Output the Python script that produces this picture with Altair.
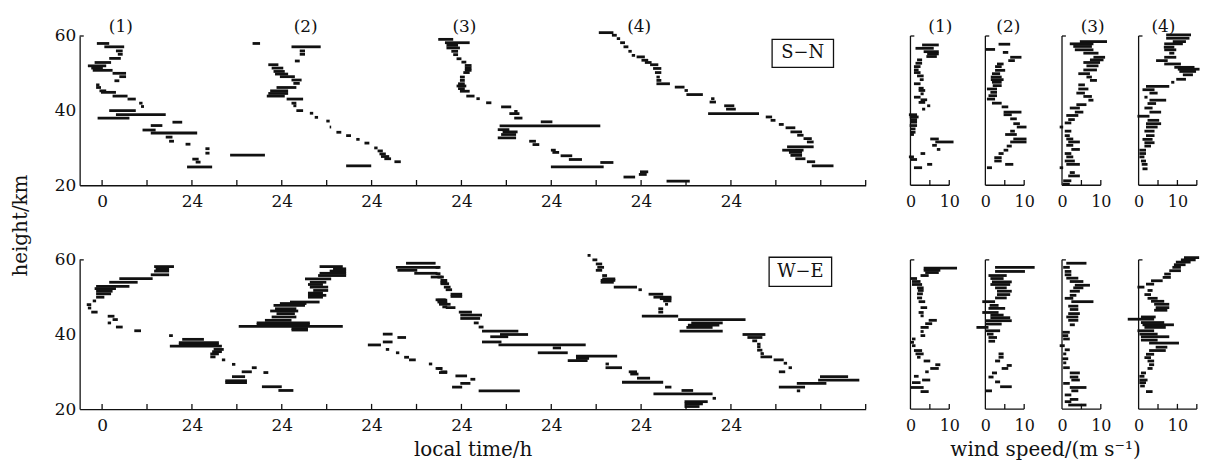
import altair as alt
import pandas as pd

# ---------------- phase-line segments: (height km, start local time h, end local time h) ----------------
SN_1 = [(58.0, -1.4, 1.9), (57.1, 0.6, 5.9), (56.0, 3.7, 5.5), (55.1, 4.2, 5.5), (54.0, 1.9, 5.0),
        (52.9, -2.0, 2.4), (52.0, -3.8, 1.1), (51.4, -2.9, 0.2), (50.8, -2.5, 2.8), (50.0, 2.8, 6.4),
        (49.1, 4.6, 6.4), (48.0, 3.3, 4.6), (46.9, -1.6, -0.7), (46.2, -1.6, -0.3), (45.3, -0.7, 1.1),
        (44.9, -0.3, 3.7), (43.9, 2.8, 6.8), (43.1, 6.8, 9.0), (42.0, 9.9, 10.8), (41.1, 10.4, 11.2),
        (40.0, 1.9, 9.0), (38.9, 3.7, 17.0), (38.0, -1.2, 7.3), (36.9, 18.8, 21.4), (36.0, 13.0, 16.1),
        (34.8, 10.8, 14.3), (34.0, 13.0, 25.4), (32.9, 17.0, 18.8), (31.8, 17.9, 19.2), (31.0, 22.3, 23.6),
        (29.8, 27.6, 28.7), (28.6, 27.6, 28.7), (27.0, 24.1, 25.8), (26.2, 25.0, 26.3), (24.9, 22.7, 29.4)]
SN_2 = [(58.0, 40.2, 42.2), (57.1, 50.6, 58.4), (56.0, 52.8, 54.2), (55.1, 52.8, 54.2), (53.3, 51.5, 52.8),
        (52.3, 44.4, 47.1), (51.4, 45.3, 48.4), (50.5, 45.8, 48.8), (49.8, 46.2, 49.7), (49.1, 47.5, 51.5),
        (48.2, 50.6, 53.3), (47.3, 51.1, 52.8), (46.2, 46.6, 51.9), (45.3, 44.9, 49.7), (44.6, 44.4, 49.7),
        (43.9, 44.0, 48.8), (43.1, 49.3, 53.7), (42.0, 50.6, 51.9), (41.3, 51.1, 51.9), (40.0, 51.9, 53.7),
        (39.3, 55.5, 56.4), (38.2, 56.8, 57.7), (37.2, 59.9, 60.8), (35.6, 60.8, 61.2), (34.2, 62.6, 63.9),
        (33.3, 65.2, 66.5), (32.3, 67.9, 68.8), (31.3, 70.1, 71.4), (30.0, 72.7, 73.6), (29.2, 73.6, 75.0),
        (28.4, 74.1, 75.8), (27.7, 74.5, 76.7), (27.1, 75.4, 77.2), (26.3, 78.1, 79.8), (25.2, 65.2, 71.9),
        (28.1, 34.2, 43.5)]
SN_3 = [(59.1, 89.8, 93.8), (58.2, 91.6, 98.2), (57.5, 92.0, 95.1), (56.8, 92.0, 95.6), (55.9, 93.3, 95.1),
        (55.0, 93.8, 95.1), (53.9, 94.7, 96.0), (53.0, 96.0, 97.3), (52.1, 96.9, 98.7), (51.4, 96.9, 98.7),
        (50.8, 96.9, 98.7), (50.2, 96.5, 98.2), (49.0, 95.6, 96.9), (48.1, 95.6, 96.9), (47.2, 95.1, 96.9),
        (46.6, 94.7, 97.3), (45.9, 95.1, 96.9), (45.2, 95.6, 98.2), (43.9, 97.3, 99.5), (43.2, 100.0, 100.9),
        (42.1, 102.6, 104.0), (41.0, 106.6, 109.3), (39.8, 110.1, 111.0), (39.2, 108.8, 111.5),
        (38.0, 110.1, 112.3), (37.0, 117.2, 120.3), (35.9, 106.2, 133.1), (34.9, 105.7, 108.8),
        (34.3, 107.0, 111.0), (33.6, 106.6, 110.6), (32.7, 105.7, 110.6), (31.8, 114.1, 115.9),
        (30.9, 115.0, 116.8), (29.4, 119.9, 121.2), (28.8, 120.3, 122.1), (27.9, 122.5, 125.6),
        (26.9, 124.7, 128.2), (26.1, 133.1, 136.6), (24.9, 119.9, 134.0), (22.2, 139.3, 142.4),
        (23.6, 143.7, 145.9), (22.9, 143.4, 145.5), (21.1, 150.8, 157.0)]
SN_4 = [(60.9, 132.7, 136.6), (60.2, 136.2, 137.5), (59.3, 137.5, 138.4), (58.2, 138.4, 139.7),
        (57.1, 139.3, 140.6), (55.9, 140.6, 141.5), (54.8, 141.5, 142.4), (54.4, 142.8, 145.0),
        (53.5, 144.1, 145.9), (52.9, 145.0, 146.8), (52.3, 146.4, 148.6), (51.3, 147.2, 149.4),
        (50.2, 147.7, 149.4), (49.0, 148.1, 149.0), (48.1, 148.1, 149.4), (47.2, 148.1, 151.7),
        (46.3, 153.0, 155.6), (45.4, 155.6, 156.5), (44.3, 156.1, 160.5), (43.2, 162.7, 163.6),
        (42.3, 162.3, 164.0), (41.3, 166.2, 168.9), (40.4, 166.7, 169.3), (39.2, 161.9, 175.5),
        (38.3, 177.3, 179.0), (37.4, 178.6, 179.9), (36.3, 180.8, 182.1), (35.4, 182.6, 185.2),
        (34.3, 183.9, 187.0), (33.4, 185.7, 187.4), (32.5, 187.4, 189.6), (31.6, 188.3, 190.1),
        (30.3, 183.0, 190.1), (29.4, 181.7, 187.4), (28.8, 183.5, 187.0), (28.0, 183.9, 187.0),
        (27.1, 185.2, 187.9), (26.3, 188.3, 190.5), (25.2, 189.6, 195.4)]

WE_1 = [(58.2, 13.9, 19.2), (57.6, 14.3, 17.9), (57.0, 13.9, 17.9), (56.0, 13.0, 17.9), (55.0, 4.6, 13.5),
        (54.0, 1.9, 9.5), (52.9, -1.6, 7.3), (52.3, -2.0, 3.7), (51.6, -1.6, 2.8), (50.9, -1.6, 2.4),
        (50.0, -1.6, 0.6), (49.0, -2.5, -1.6), (48.0, -4.1, -2.9), (47.1, -3.8, -2.9), (46.0, -2.9, -1.2),
        (44.9, 1.5, 3.3), (44.0, 2.8, 4.2), (43.1, 1.5, 2.4), (42.0, 3.7, 5.5), (41.0, 8.6, 10.4),
        (39.7, 17.9, 18.9), (38.7, 21.4, 27.2), (37.8, 20.5, 31.2), (37.3, 20.5, 31.2), (36.9, 18.1, 32.0),
        (36.0, 29.8, 32.5), (35.4, 29.4, 32.0), (34.8, 28.9, 31.2), (34.0, 28.9, 30.3), (33.2, 32.0, 32.9),
        (32.0, 34.7, 35.6), (31.1, 40.0, 41.3), (30.0, 37.3, 40.0), (29.8, 43.1, 44.4), (28.7, 34.7, 38.2),
        (27.6, 32.9, 38.7), (27.1, 32.9, 38.7), (26.0, 42.7, 48.0), (25.0, 47.1, 51.1)]
WE_2 = [(58.2, 58.1, 64.3), (57.6, 61.7, 65.2), (57.0, 60.8, 65.2), (56.4, 58.1, 65.2), (55.8, 57.7, 65.2),
        (54.9, 54.2, 61.2), (54.0, 55.5, 59.9), (53.4, 55.0, 59.0), (52.7, 55.5, 60.4), (51.8, 56.4, 60.4),
        (51.1, 55.0, 59.0), (50.5, 55.0, 59.9), (50.0, 55.0, 59.0), (48.7, 50.2, 58.1), (48.3, 47.5, 54.6),
        (47.8, 45.8, 54.2), (46.9, 46.2, 51.9), (46.3, 44.9, 52.4), (45.6, 46.6, 51.5), (44.7, 45.3, 51.9),
        (43.8, 43.5, 50.6), (43.1, 41.3, 55.5), (42.7, 41.3, 55.5), (42.2, 36.5, 64.3), (41.6, 50.6, 55.0),
        (41.2, 50.6, 55.0)]
WE_3 = [(59.1, 81.2, 89.1), (58.0, 78.5, 90.4), (57.2, 78.9, 84.2), (56.4, 83.4, 89.6), (55.4, 87.8, 91.3),
        (54.0, 90.4, 92.2), (49.2, 89.6, 92.2), (48.3, 90.0, 92.2), (47.4, 90.9, 92.2), (40.1, 75.0, 77.6),
        (38.0, 75.0, 77.6), (37.2, 71.0, 74.5), (39.2, 78.9, 81.2), (36.0, 75.8, 76.7), (35.1, 78.5, 79.4),
        (33.9, 80.7, 82.0), (33.2, 82.0, 83.8), (32.1, 87.3, 88.2), (30.9, 89.6, 90.9), (30.0, 90.4, 92.2),
        (58.0, 89.1, 90.0), (56.3, 89.1, 90.4), (55.4, 89.6, 90.9), (54.5, 90.4, 92.2), (53.6, 90.4, 92.7),
        (52.7, 91.3, 93.1), (52.0, 91.8, 93.5), (50.8, 93.1, 96.2), (50.2, 93.1, 96.2), (49.3, 89.1, 91.8),
        (48.7, 89.6, 92.2), (48.1, 90.0, 93.1), (47.2, 91.8, 94.4), (46.0, 95.3, 98.8), (45.2, 95.7, 101.5),
        (44.3, 95.7, 101.0), (43.1, 99.3, 100.6), (42.0, 100.6, 101.9), (40.9, 101.5, 111.2),
        (40.0, 106.3, 113.8), (39.4, 103.7, 108.5), (38.0, 101.5, 106.7), (37.2, 105.9, 129.2),
        (36.4, 120.4, 122.6), (35.1, 116.4, 124.4), (34.2, 126.6, 137.6), (33.6, 126.6, 130.1),
        (33.0, 124.4, 129.7), (32.1, 134.5, 135.4), (31.1, 134.5, 138.9), (30.0, 140.7, 142.9),
        (29.4, 141.1, 143.3), (28.3, 142.9, 146.4), (27.2, 138.9, 149.9), (25.9, 150.4, 152.1),
        (25.0, 154.8, 157.9), (24.1, 147.3, 163.1), (22.9, 163.1, 164.0), (22.0, 155.6, 161.8),
        (21.4, 155.6, 160.5), (20.7, 155.6, 159.6), (30.9, 89.1, 90.9), (29.8, 90.0, 92.2),
        (28.9, 94.4, 97.5), (28.0, 98.4, 99.7), (26.9, 95.7, 98.4), (25.9, 93.5, 96.2), (24.9, 100.6, 111.6)]
WE_4 = [(61.2, 129.7, 130.5), (60.0, 131.0, 132.3), (58.9, 131.9, 133.6), (58.0, 132.3, 134.1),
        (57.2, 131.9, 133.6), (55.8, 133.6, 134.9), (54.9, 133.6, 137.1), (54.5, 133.2, 137.1),
        (54.0, 133.2, 136.7), (52.7, 136.7, 142.9), (52.0, 143.3, 144.2), (50.8, 146.0, 149.9),
        (50.0, 147.3, 152.1), (49.6, 149.0, 152.1), (49.0, 149.9, 152.1), (48.1, 150.4, 151.2),
        (46.9, 148.6, 149.9), (46.0, 148.6, 149.9), (44.9, 144.2, 153.9), (44.0, 153.9, 171.9),
        (43.1, 157.4, 165.8), (42.5, 156.5, 164.9), (41.9, 156.1, 163.1), (40.9, 154.3, 165.8),
        (40.0, 171.1, 177.2), (39.2, 172.4, 176.4), (38.3, 173.7, 175.0), (37.4, 175.0, 175.9),
        (36.7, 175.0, 175.9), (35.8, 175.0, 176.4), (34.9, 175.9, 176.8), (34.0, 175.9, 179.0),
        (33.2, 179.4, 182.1), (32.3, 182.1, 183.0), (31.1, 183.4, 184.3), (30.0, 180.8, 182.5),
        (28.7, 191.8, 199.3), (27.8, 191.3, 202.3), (26.9, 185.6, 193.5), (25.9, 180.8, 187.8),
        (24.9, 185.6, 186.5)]

# ---------------- wind speed profiles: (height km, low m/s, high m/s) ----------------
SN_W1 = [(57.6, 3.0, 7.3), (56.7, 1.3, 6.0), (55.8, 3.4, 7.3), (55.2, 4.3, 7.3), (54.5, 4.1, 6.8),
         (53.6, 1.7, 3.0), (52.7, 1.3, 3.0), (51.8, 0.9, 2.6), (50.9, 0.9, 2.1), (50.2, 0.9, 2.6),
         (49.3, 1.7, 3.4), (48.3, 2.4, 3.4), (47.2, 0.9, 2.6), (46.0, 2.1, 3.4), (45.4, 2.1, 3.8),
         (44.5, 2.6, 3.4), (43.6, 0.9, 2.6), (42.9, 2.6, 4.3), (42.2, 2.1, 3.8), (41.3, 4.3, 5.1),
         (40.4, 3.0, 3.8), (38.9, -0.4, 1.7), (38.3, -0.2, 2.1), (37.6, 0.0, 1.7), (36.9, 0.0, 1.7),
         (36.0, -0.2, 1.7), (35.1, 0.0, 1.3), (34.2, 0.0, 1.3), (33.6, 0.0, 0.9), (32.4, 5.1, 7.3),
         (31.6, 6.4, 11.1), (30.7, 5.6, 6.8), (29.6, 6.8, 7.7), (28.5, 2.6, 3.8), (27.6, -0.4, 0.9),
         (26.9, 0.0, 1.7), (25.6, 4.3, 5.6), (24.7, 0.9, 3.0)]
SN_W2 = [(57.8, 3.4, 6.4), (56.4, 0.0, 2.5), (55.6, 4.5, 5.9), (54.3, 6.4, 9.3), (53.4, 5.9, 7.6),
         (52.5, 3.0, 4.7), (51.8, 2.5, 4.2), (50.8, 2.5, 5.1), (49.9, 1.7, 3.8), (49.0, 1.4, 4.2),
         (48.3, 1.4, 4.7), (47.6, 1.7, 4.2), (46.7, 1.9, 4.2), (45.8, 0.4, 3.0), (44.9, 1.3, 3.0),
         (44.0, 0.8, 3.0), (43.1, 0.4, 2.5), (42.0, 1.7, 4.2), (41.0, 4.2, 5.9), (39.6, 4.7, 9.3),
         (38.9, 4.7, 6.8), (37.8, 6.4, 8.1), (36.5, 7.2, 8.9), (35.6, 8.1, 10.6), (34.5, 6.4, 7.6),
         (33.6, 5.1, 8.1), (32.4, 7.2, 10.6), (31.6, 6.4, 10.6), (30.5, 5.5, 6.8), (29.4, 4.7, 5.9),
         (28.5, 3.4, 4.7), (27.4, 2.3, 4.2), (26.5, 2.3, 4.2), (25.6, 5.1, 7.2), (24.7, 0.4, 1.7)]
SN_W3 = [(58.5, 4.6, 11.6), (57.9, 2.0, 8.1), (57.2, 2.9, 7.7), (56.3, 3.3, 8.1), (55.4, 5.5, 9.4),
         (54.3, 8.1, 11.1), (53.6, 7.2, 10.7), (52.9, 5.5, 9.8), (52.0, 6.3, 9.4), (50.9, 5.5, 9.0),
         (49.9, 4.2, 7.2), (49.0, 6.3, 7.7), (48.1, 7.2, 9.0), (46.9, 4.2, 5.9), (45.8, 4.2, 6.8),
         (44.7, 3.7, 5.9), (43.8, 5.5, 7.7), (42.8, 6.8, 8.1), (41.6, 3.7, 6.3), (40.7, 2.0, 4.6),
         (39.6, 3.3, 5.5), (38.7, 1.1, 4.2), (37.6, 1.6, 3.3), (36.7, 0.7, 2.4), (35.6, -0.6, 0.3),
         (34.5, 0.7, 2.4), (33.3, 0.7, 2.0), (32.4, 1.1, 2.9), (31.6, 1.6, 4.6), (30.7, 1.1, 2.9),
         (29.6, 2.4, 4.6), (28.5, 0.7, 2.4), (27.6, 1.1, 2.9), (26.5, 0.7, 3.3), (25.6, 1.1, 4.6),
         (24.7, -0.6, 0.3), (23.4, 2.0, 3.3), (22.5, 1.6, 4.6), (21.2, 0.3, 2.4), (20.3, 0.1, 2.0)]
SN_W4 = [(60.3, 7.1, 13.5), (59.4, 7.1, 13.1), (58.5, 8.8, 12.2), (57.9, 6.6, 11.4), (57.0, 6.5, 9.2),
         (56.3, 6.6, 9.7), (55.4, 7.9, 9.2), (54.3, 6.6, 9.7), (53.4, 4.5, 7.5), (52.5, 6.6, 10.9),
         (51.6, 9.2, 14.4), (51.1, 10.1, 15.7), (50.5, 10.5, 14.8), (49.6, 11.4, 14.0), (48.4, 9.7, 12.2),
         (47.6, 8.4, 9.2), (46.5, 1.9, 7.9), (45.6, 1.0, 4.1), (44.7, 2.8, 4.9), (43.6, 1.5, 2.3),
         (42.8, 2.8, 7.1), (41.9, 2.3, 4.5), (40.7, 1.5, 3.6), (39.6, 2.8, 5.8), (38.5, -0.3, 2.8),
         (37.4, 2.3, 5.3), (36.5, 1.9, 5.8), (35.6, 1.9, 4.9), (34.5, 1.5, 4.1), (33.3, 1.9, 4.1),
         (32.3, 1.0, 3.6), (31.4, 1.5, 4.1), (30.5, 1.5, 3.2), (29.4, 0.2, 1.9), (28.5, 0.2, 1.9),
         (27.6, 0.2, 1.5), (26.5, 0.6, 1.9), (25.6, 0.8, 2.3), (24.4, 1.0, 2.3)]
WE_W1 = [(57.8, 3.4, 12.0), (57.2, 3.4, 7.7), (56.6, 3.8, 7.3), (55.8, 2.6, 4.7), (55.0, 0.0, 1.7),
         (54.2, 0.4, 2.6), (53.4, 0.4, 3.0), (52.5, 1.7, 3.4), (51.8, 1.9, 3.4), (50.9, 1.7, 3.2),
         (49.8, 1.7, 3.0), (48.8, 2.1, 3.8), (47.2, 2.6, 4.3), (45.9, 2.1, 3.4), (45.0, 2.6, 3.4),
         (43.8, 4.7, 6.8), (42.9, 3.8, 5.6), (41.9, 2.6, 4.7), (40.8, 2.6, 3.4), (39.7, 2.6, 3.8),
         (38.8, 0.4, 1.3), (37.9, 0.0, 0.9), (37.0, 0.4, 1.3), (35.7, 0.9, 3.0), (34.8, 1.3, 3.4),
         (33.9, 1.7, 2.6), (32.9, 3.4, 5.1), (31.9, 6.4, 7.7), (30.9, 5.1, 7.3), (30.0, 3.8, 4.7),
         (28.8, 0.9, 2.1), (27.8, 3.0, 5.1), (27.1, 0.4, 2.6), (25.8, 0.0, 3.4), (24.7, 2.6, 4.7)]
WE_W2 = [(58.0, 2.5, 12.7), (56.9, 2.5, 10.2), (55.8, 0.8, 5.5), (55.0, 1.3, 4.7), (54.1, 1.7, 6.8),
         (53.4, 1.3, 6.4), (52.5, 2.5, 5.5), (51.6, 3.0, 6.8), (50.7, 3.0, 6.4), (49.8, 2.5, 5.5),
         (48.8, -0.8, 2.5), (47.8, 1.1, 3.4), (47.0, 0.8, 5.1), (45.9, -0.8, 3.4), (45.2, 1.3, 4.7),
         (44.5, 1.3, 6.4), (43.7, 0.0, 6.8), (42.8, 0.0, 4.2), (41.9, -2.3, 0.8), (41.0, 0.0, 3.8),
         (40.1, 0.4, 2.1), (39.2, 0.8, 3.0), (38.2, 0.8, 2.5), (34.8, 3.4, 4.7), (33.9, 3.4, 4.7),
         (32.9, 2.5, 3.8), (31.7, 5.5, 6.8), (30.9, 4.2, 5.9), (29.7, 1.7, 3.0), (28.6, 0.8, 2.1),
         (27.3, 2.5, 3.8), (26.0, 3.8, 6.8), (24.9, 0.0, 1.7)]
WE_W3 = [(59.1, 1.1, 6.3), (58.0, 0.3, 2.0), (56.9, 0.7, 2.4), (56.0, 0.7, 2.4), (55.1, 1.1, 4.2),
         (54.2, 2.0, 5.5), (53.2, 3.3, 7.2), (52.5, 2.9, 5.5), (51.6, 2.0, 4.6), (50.5, 2.0, 3.7),
         (49.7, 0.7, 2.9), (48.8, 2.4, 8.1), (47.6, 1.6, 4.2), (46.7, 2.0, 4.2), (45.6, 1.6, 4.6),
         (44.7, 1.1, 4.2), (43.8, 1.6, 4.2), (42.6, 2.0, 3.3), (40.6, 0.1, 2.0), (39.7, 0.1, 1.6),
         (38.8, 0.3, 2.0), (37.0, -0.6, 0.7), (35.9, 0.7, 2.0), (34.8, 0.3, 1.1), (33.5, 0.1, 1.6),
         (32.4, 0.3, 1.1), (31.1, 0.3, 2.0), (29.7, 2.0, 4.6), (28.6, 2.0, 4.2), (27.8, 2.4, 4.6),
         (26.9, 0.3, 2.0), (25.8, 2.0, 6.3), (24.9, 2.4, 4.2), (23.8, 0.7, 2.4), (22.6, 2.0, 4.2),
         (22.0, 0.7, 2.4), (21.1, 1.6, 6.3)]
WE_W4 = [(60.6, 11.7, 15.6), (60.0, 10.9, 14.7), (59.4, 9.6, 13.4), (58.7, 9.1, 12.1), (58.0, 8.7, 10.9),
         (57.1, 7.9, 10.9), (56.2, 6.6, 8.3), (55.3, 6.2, 8.3), (54.4, 3.2, 6.2), (53.5, 1.9, 4.0),
         (52.7, -0.3, 1.5), (51.8, 2.3, 3.6), (50.7, 1.5, 3.2), (49.7, 2.3, 4.9), (48.9, 3.2, 6.6),
         (48.1, 4.0, 7.9), (47.2, 4.4, 7.9), (46.5, 4.0, 7.4), (44.7, 0.6, 4.4), (44.1, -2.8, 4.0),
         (43.2, 0.6, 6.6), (42.6, 1.0, 9.1), (41.9, 1.5, 7.0), (41.0, -0.3, 4.0), (40.1, 0.2, 4.9),
         (39.4, 0.6, 7.9), (38.5, 0.6, 4.9), (37.7, 2.7, 10.4), (36.6, 4.4, 7.4), (35.7, 2.7, 7.0),
         (34.7, 1.9, 4.0), (33.8, 1.5, 3.2), (32.9, 2.3, 4.0), (31.9, 2.7, 4.0), (30.9, 2.3, 3.6),
         (29.7, 0.6, 1.9), (28.8, 0.2, 1.5), (27.8, 0.2, 2.3), (27.1, 0.2, 1.9), (26.2, 0.4, 1.6),
         (24.7, 1.9, 3.6)]

# ---------------- labels / ticks ----------------
TAGS = ["(1)", "(2)", "(3)", "(4)"]
TAG_TIME = [5.0, 54.4, 96.8, 143.5]          # where the case labels sit over the time panels
TAG_SPEED = [7.7, 5.9, 7.9, 6.4]              # where the case labels sit over the wind panels
TIME_TICKS = list(range(0, 205, 12))
TIME_LABELS = [0, 24, 48, 72, 96, 120, 144, 168]
HEIGHT_LABELS = [20, 40, 60]

# ---------------- styling / layout ----------------
FONT = "DejaVu Serif"
INK = "#111111"
PANEL_H = 150
T_DOM = [-6, 204]
LEFT_W = 790
PX_PER_MS = 3.9
TAG_H = 62.4
SPEED_DOMS = [(-8.46, 13.0, 10), (-3.15, 13.0, 10), (-3.67, 13.0, 10), (-3.41, 15.7, 15)]
SEG_W = 2.8
AX_W = 1.3


def frame(segs):
    return pd.DataFrame(segs, columns=["h", "a", "b"])


def hscale():
    return alt.Scale(domain=[20, 60], nice=False, zero=False)


def time_panel(groups, box, box_text, ytitle=False, xtitle=False):
    df = pd.concat([frame(g).assign(series=i + 1) for i, g in enumerate(groups)], ignore_index=True)
    tscale = alt.Scale(domain=T_DOM, nice=False, zero=False)
    xax = dict(values=TIME_LABELS, labelExpr="datum.value == 0 ? '0' : '24'", ticks=False,
               labelPadding=8, labelFontSize=17, grid=False, domainColor=INK, domainWidth=AX_W,
               labelFont=FONT, labelColor=INK)
    if xtitle:
        xax.update(title="local time/h", titleFontSize=20, titlePadding=7, titleFont=FONT,
                   titleColor=INK, titleFontWeight="normal")
    else:
        xax.update(title=None)
    yax = dict(values=HEIGHT_LABELS, ticks=False, labelPadding=4, labelFontSize=17, grid=False,
               domainColor=INK, domainWidth=AX_W, labelFont=FONT, labelColor=INK)
    if ytitle:
        yax.update(title="height/km", titleFontSize=20, titlePadding=24, titleY=190,
                   titleFont=FONT, titleColor=INK, titleFontWeight="normal")
    else:
        yax.update(title=None)

    segs = alt.Chart(df).mark_rule(color=INK, strokeWidth=SEG_W).encode(
        x=alt.X("a:Q", scale=tscale, axis=alt.Axis(**xax)),
        x2="b:Q",
        y=alt.Y("h:Q", scale=hscale(), axis=alt.Axis(**yax)),
    )
    one = pd.DataFrame({"k": [0]})
    ticks = alt.Chart(pd.DataFrame({"a": TIME_TICKS})).mark_rule(color=INK, strokeWidth=AX_W).encode(
        x="a:Q", y=alt.datum(20), y2=alt.datum(21.4))
    cap = alt.Chart(one).mark_rule(color=INK, strokeWidth=AX_W).encode(
        x=alt.datum(T_DOM[0]), x2=alt.datum(T_DOM[0] + 1.1), y=alt.datum(60))
    rect = alt.Chart(one).mark_rect(fill="white", stroke=INK, strokeWidth=AX_W).encode(
        x=alt.datum(box[0]), x2=alt.datum(box[1]), y=alt.datum(box[2]), y2=alt.datum(box[3]))
    btxt = alt.Chart(one).mark_text(font=FONT, fontSize=18, color=INK).encode(
        x=alt.datum((box[0] + box[1]) / 2), y=alt.datum((box[2] + box[3]) / 2),
        text=alt.value(box_text))
    layers = [segs, ticks, cap, rect, btxt]
    if ytitle:
        tags = alt.Chart(pd.DataFrame({"a": TAG_TIME, "h": [TAG_H] * 4, "lab": TAGS})).mark_text(
            font=FONT, fontSize=17, color=INK).encode(x="a:Q", y="h:Q", text="lab:N")
        layers.append(tags)
    return alt.layer(*layers).properties(width=LEFT_W, height=PANEL_H)


def wind_panel(segs_list, k, show_tag, xtitle=False):
    lo, hi, end = SPEED_DOMS[k]
    df = frame(segs_list)
    vscale = alt.Scale(domain=[lo, hi], nice=False, zero=False)
    xax = dict(values=[0, 10], domain=False, ticks=False, labelPadding=8, labelFontSize=16, grid=False,
               labelFont=FONT, labelColor=INK)
    if xtitle:
        xax.update(title="wind speed/(m s⁻¹)", titleFontSize=20, titlePadding=7,
                   titleX=60 - lo * PX_PER_MS,
                   titleFont=FONT, titleColor=INK, titleFontWeight="normal")
    else:
        xax.update(title=None)
    segs = alt.Chart(df).mark_rule(color=INK, strokeWidth=SEG_W).encode(
        x=alt.X("a:Q", scale=vscale, axis=alt.Axis(**xax)),
        x2="b:Q",
        y=alt.Y("h:Q", scale=hscale(), axis=None),
    )
    one = pd.DataFrame({"k": [0]})
    yline = alt.Chart(one).mark_rule(color=INK, strokeWidth=AX_W).encode(
        x=alt.datum(0), y=alt.datum(20), y2=alt.datum(60))
    cap = alt.Chart(one).mark_rule(color=INK, strokeWidth=AX_W).encode(
        x=alt.datum(0), x2=alt.datum(1.0), y=alt.datum(60))
    xline = alt.Chart(one).mark_rule(color=INK, strokeWidth=AX_W).encode(
        x=alt.datum(0), x2=alt.datum(end), y=alt.datum(20))
    tick_vals = [v for v in (5, 10, 15) if v <= end]
    ticks = alt.Chart(pd.DataFrame({"a": tick_vals})).mark_rule(color=INK, strokeWidth=AX_W).encode(
        x="a:Q", y=alt.datum(20), y2=alt.datum(21.4))
    layers = [segs, yline, cap, xline, ticks]
    if show_tag:
        tag = alt.Chart(pd.DataFrame({"a": [TAG_SPEED[k]], "h": [TAG_H], "lab": [TAGS[k]]})).mark_text(
            font=FONT, fontSize=17, color=INK).encode(x="a:Q", y="h:Q", text="lab:N")
        layers.append(tag)
    return alt.layer(*layers).properties(width=(hi - lo) * PX_PER_MS, height=PANEL_H)


SN_BOX = (179.0, 195.4, 51.6, 59.1)
WE_BOX = (178.2, 194.9, 52.9, 60.7)

top_left = time_panel([SN_1, SN_2, SN_3, SN_4], SN_BOX, "S−N", ytitle=True)
bot_left = time_panel([WE_1, WE_2, WE_3, WE_4], WE_BOX, "W−E", xtitle=True)
top_w = [wind_panel(s, i, True) for i, s in enumerate([SN_W1, SN_W2, SN_W3, SN_W4])]
bot_w = [wind_panel(s, i, False, xtitle=(i == 1)) for i, s in enumerate([WE_W1, WE_W2, WE_W3, WE_W4])]

chart = alt.concat(
    top_left, *top_w, bot_left, *bot_w,
    columns=5, spacing={"row": 75, "column": 12}, bounds="flush",
).properties(
    padding={"left": 2, "top": 8, "right": 0, "bottom": 0}, background="white"
).configure_view(stroke=None)

chart.save("out.html", embed_options={"renderer": "svg", "actions": False})
